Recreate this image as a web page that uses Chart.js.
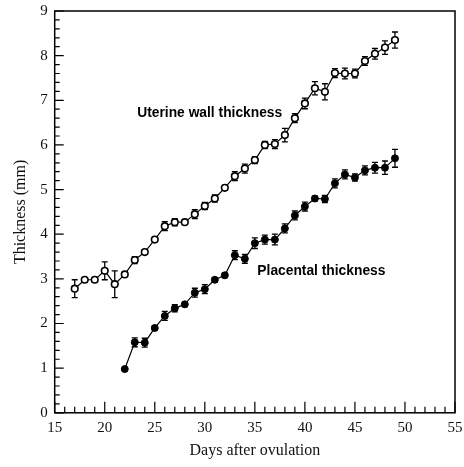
<!DOCTYPE html>
<html>
<head>
<meta charset="utf-8">
<script src="https://cdn.jsdelivr.net/npm/chart.js@4/dist/chart.umd.min.js"></script>
<style>
    body { margin: 0; background: #fff; }
    #wrap { width: 464px; height: 467px; position: relative; }
</style>
</head>
<body>
<div id="wrap"><canvas id="thicknessView"></canvas></div>
<script>
// days after ovulation
const uterineDays = [17, 18, 19, 20, 21, 22, 23, 24, 25, 26, 27, 28, 29, 30, 31, 32, 33,
    34, 35, 36, 37, 38, 39, 40, 41, 42, 43, 44, 45, 46, 47, 48, 49];
const uterineMm = [2.78, 2.98, 2.98, 3.18, 2.88, 3.1, 3.42, 3.6, 3.88, 4.18, 4.27, 4.27, 4.45,
    4.63, 4.8, 5.04, 5.3, 5.47, 5.66, 6.0, 6.02, 6.22, 6.6, 6.93, 7.27, 7.19, 7.61, 7.6, 7.6,
    7.88, 8.04, 8.18, 8.35];
const uterineErr = [0.2, 0.05, 0.05, 0.2, 0.3, 0.05, 0.08, 0.05, 0.05, 0.1, 0.08, 0.05, 0.1,
    0.08, 0.08, 0.05, 0.1, 0.1, 0.08, 0.08, 0.1, 0.15, 0.1, 0.12, 0.15, 0.18, 0.1, 0.12, 0.1,
    0.1, 0.12, 0.15, 0.18];

const placentalDays = [22, 23, 24, 25, 26, 27, 28, 29, 30, 31, 32, 33, 34, 35, 36, 37, 38,
    39, 40, 41, 42, 43, 44, 45, 46, 47, 48, 49];
const placentalMm = [0.98, 1.58, 1.57, 1.9, 2.17, 2.34, 2.43, 2.69, 2.77, 2.98, 3.08, 3.53,
    3.45, 3.8, 3.88, 3.88, 4.13, 4.42, 4.62, 4.8, 4.79, 5.14, 5.34, 5.27, 5.43, 5.49, 5.49, 5.7];
const placentalErr = [0, 0.1, 0.1, 0.05, 0.1, 0.08, 0.05, 0.1, 0.1, 0.05, 0.05, 0.1, 0.1,
    0.12, 0.1, 0.12, 0.1, 0.1, 0.1, 0.05, 0.08, 0.1, 0.1, 0.08, 0.1, 0.12, 0.15, 0.2];

const xTicks = [15, 20, 25, 30, 35, 40, 45, 50, 55];
const yTicks = [0, 1, 2, 3, 4, 5, 6, 7, 8, 9];

// in-plot labels, placed in data units
const noteTexts = ["Uterine wall thickness", "Placental thickness"];
const noteX = [23.25, 35.25];
const noteY = [6.72, 3.18];

const toPoints = (xs, ys) => xs.map((x, i) => ({ x: x, y: ys[i] }));

const errorBars = {
    id: "errorBars",
    beforeDatasetsDraw(chart) {
        const { ctx, scales } = chart;
        ctx.save();
        ctx.strokeStyle = "#000";
        ctx.lineWidth = 1.3;
        chart.data.datasets.forEach((ds) => {
            ds.data.forEach((p, i) => {
                const e = ds.errors[i];
                if (!e) return;
                const px = scales.x.getPixelForValue(p.x);
                const top = scales.y.getPixelForValue(p.y + e);
                const bot = scales.y.getPixelForValue(p.y - e);
                ctx.beginPath();
                ctx.moveTo(px, top);
                ctx.lineTo(px, bot);
                ctx.moveTo(px - 3, top);
                ctx.lineTo(px + 3, top);
                ctx.moveTo(px - 3, bot);
                ctx.lineTo(px + 3, bot);
                ctx.stroke();
            });
        });
        ctx.restore();
    },
};

const frameAndTicks = {
    id: "frameAndTicks",
    afterDraw(chart) {
        const { ctx, chartArea: a, scales } = chart;
        ctx.save();
        ctx.strokeStyle = "#000";
        ctx.lineWidth = 1.5;
        ctx.strokeRect(a.left, a.top, a.right - a.left, a.bottom - a.top);
        ctx.lineWidth = 1.2;
        ctx.beginPath();
        for (let v = 0; v <= 45; v++) {
            const y = scales.y.getPixelForValue(v / 5);
            const len = v % 5 === 0 ? 9 : 5;
            ctx.moveTo(a.left, y);
            ctx.lineTo(a.left + len, y);
        }
        for (let d = 15; d <= 55; d++) {
            const x = scales.x.getPixelForValue(d);
            const len = d % 5 === 0 ? 11 : 6;
            ctx.moveTo(x, a.bottom);
            ctx.lineTo(x, a.bottom - len);
        }
        ctx.stroke();
        ctx.fillStyle = "#000";
        ctx.font = "bold 13.8px 'Liberation Sans', Arial, sans-serif";
        ctx.textBaseline = "middle";
        noteTexts.forEach((t, i) => {
            ctx.fillText(t, scales.x.getPixelForValue(noteX[i]), scales.y.getPixelForValue(noteY[i]));
        });
        ctx.restore();
    },
};

const serif = "'Liberation Serif', 'Times New Roman', serif";

new Chart(document.getElementById("thicknessView"), {
    type: "line",
    data: {
        datasets: [
            {
                label: "Uterine wall thickness",
                data: toPoints(uterineDays, uterineMm),
                errors: uterineErr,
                borderColor: "#000",
                borderWidth: 1.2,
                pointRadius: 3.3,
                pointBorderWidth: 1.6,
                pointBackgroundColor: "#fff",
                pointBorderColor: "#000",
                tension: 0,
            },
            {
                label: "Placental thickness",
                data: toPoints(placentalDays, placentalMm),
                errors: placentalErr,
                borderColor: "#000",
                borderWidth: 1.2,
                pointRadius: 3.5,
                pointBorderWidth: 1,
                pointBackgroundColor: "#000",
                pointBorderColor: "#000",
                tension: 0,
            },
        ],
    },
    options: {
        responsive: true,
        maintainAspectRatio: false,
        animation: false,
        layout: { padding: { top: 11, right: 9, left: 11, bottom: 7 } },
        plugins: {
            legend: { display: false },
            tooltip: { enabled: false },
        },
        scales: {
            x: {
                type: "linear",
                min: 15,
                max: 55,
                afterBuildTicks: (axis) => { axis.ticks = xTicks.map((v) => ({ value: v })); },
                afterFit: (axis) => { axis.paddingLeft = 0; axis.paddingRight = 0; },
                grid: { display: false, drawTicks: false },
                border: { display: false },
                ticks: { color: "#111", padding: 6, font: { family: serif, size: 15 } },
                title: {
                    display: true,
                    text: "Days after ovulation",
                    color: "#111",
                    padding: { top: -2, bottom: 0 },
                    font: { family: serif, size: 16 },
                },
            },
            y: {
                min: 0,
                max: 9,
                afterBuildTicks: (axis) => { axis.ticks = yTicks.map((v) => ({ value: v })); },
                afterFit: (axis) => { axis.paddingTop = 0; axis.paddingBottom = 0; },
                grid: { display: false, drawTicks: false },
                border: { display: false },
                ticks: { color: "#111", padding: 7, font: { family: serif, size: 15 } },
                title: {
                    display: true,
                    text: "Thickness (mm)",
                    color: "#111",
                    padding: { top: 0, bottom: 3 },
                    font: { family: serif, size: 16 },
                },
            },
        },
    },
    plugins: [errorBars, frameAndTicks],
});
</script>
</body>
</html>
